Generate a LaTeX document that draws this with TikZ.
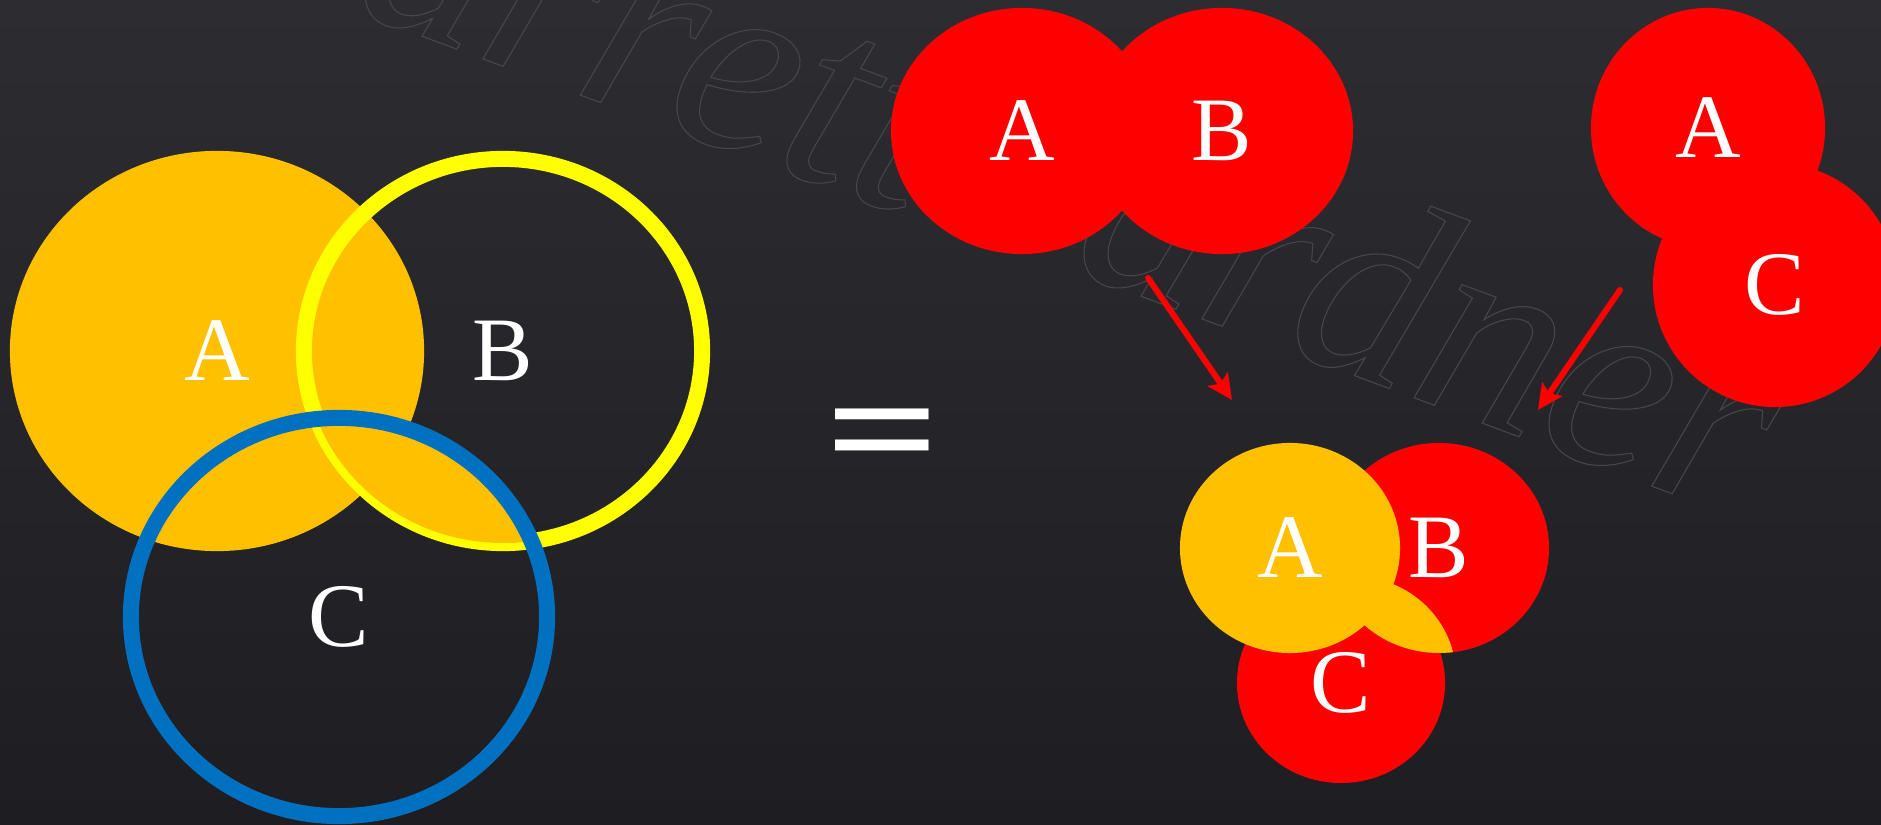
\documentclass[tikz,border=0pt]{standalone}
\usepackage{fontspec}
\setmainfont{Liberation Serif}
\usetikzlibrary{shapes.geometric, arrows.meta}
\definecolor{slatetop}{RGB}{44,44,49}
\definecolor{slatebot}{RGB}{30,30,34}
\definecolor{amber}{RGB}{255,192,0}
\definecolor{lemon}{RGB}{255,255,0}
\definecolor{ocean}{RGB}{0,112,192}
\definecolor{scarlet}{RGB}{255,0,0}
\definecolor{ghost}{RGB}{70,70,76}
\newcommand{\vennfont}{\fontsize{25.8}{26}\selectfont}
\newcommand{\eqfont}{\fontsize{52}{52}\selectfont\bfseries}
\newcommand{\wmfont}{\fontsize{76}{76}\selectfont\itshape}
\newcommand{\outlineon}{\special{pdf:literal direct 1 Tr 0.3 w}}
\newcommand{\outlineoff}{\special{pdf:literal direct 0 Tr}}

\begin{document}
\begin{tikzpicture}[x=0.01cm, y=-0.01cm,
    vennfill/.style={ellipse, inner sep=0pt, fill=#1, text=white, font=\vennfont},
    vennring/.style={ellipse, inner sep=0pt, draw=#1, line width=0.16cm, text=white, font=\vennfont},
    pointer/.style={-{Stealth[length=0.25cm, width=0.24cm, inset=0.05cm]}, scarlet, line width=0.06cm, line cap=round},
    watermark/.style={inner sep=0pt, text=ghost, font=\wmfont, rotate=-20.4, anchor=base west}]
  \useasboundingbox (0,0) rectangle (1881,825);
  \fill[top color=slatetop, bottom color=slatebot] (0,0) rectangle (1881,825);
  \clip (0,0) rectangle (1881,825);
  % watermark
  \node[watermark] (wmfirst) at (166,-59) {\outlineon Garrett\outlineoff};
  \node[watermark] (wmlast) at (885,201) {\outlineon Gardner\outlineoff};

  % left: A u (B n C)
  \node[vennfill=amber, minimum width=4.14cm, minimum height=4.00cm] (leftA) at (217,351) {A};
  \node[vennring=lemon, minimum width=3.98cm, minimum height=3.84cm] (leftB) at (503,351) {B};
  \coordinate (leftCc) at (339,617);
  \begin{scope}
    \clip (leftB.center) ellipse [x radius=199, y radius=192];
    \fill[amber] (leftCc) ellipse [x radius=208, y radius=199];
  \end{scope}
  \node[vennring=ocean, minimum width=4.16cm, minimum height=3.98cm] (leftC) at (leftCc) {C};

  \node[text=white, font=\eqfont, inner sep=0pt, xscale=1.1, yscale=0.85] (eq) at (883,445) {=};

  % top: A u B
  \node[vennfill=scarlet, minimum width=2.62cm, minimum height=2.46cm] (midA) at (1022,131) {A};
  \node[vennfill=scarlet, minimum width=2.62cm, minimum height=2.46cm] (midB) at (1222,131) {B};

  % top right: A u C
  \node[vennfill=scarlet, minimum width=2.34cm, minimum height=2.40cm] (rightA) at (1708,128) {A};
  \node[vennfill=scarlet, minimum width=2.44cm, minimum height=2.44cm] (rightC) at (1775,285) {C};

  % bottom: result
  \node[vennfill=scarlet, minimum width=2.20cm, minimum height=2.10cm] (botB) at (1439,548) {B};
  \node[vennfill=scarlet, minimum width=2.08cm, minimum height=2.00cm] (botC) at (1341,683) {C};
  \coordinate (lensC) at (1352,676);
  \begin{scope}
    \clip (botB.center) ellipse [x radius=110, y radius=105];
    \fill[amber] (lensC) ellipse [x radius=104, y radius=100];
  \end{scope}
  \node[vennfill=amber, minimum width=2.20cm, minimum height=2.10cm] (botA) at (1290,548) {A};

  \coordinate (arrLs) at (1148,278);
  \coordinate (arrLe) at (1232,400);
  \coordinate (arrRs) at (1620,290);
  \coordinate (arrRe) at (1538,410);
  \draw[pointer] (arrLs) -- (arrLe);
  \draw[pointer] (arrRs) -- (arrRe);
\end{tikzpicture}
\end{document}
